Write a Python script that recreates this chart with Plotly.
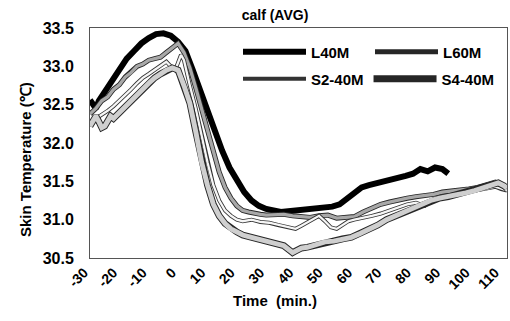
import plotly.graph_objects as go

# ---------------- data ----------------
x_ticks = [-30, -20, -10, 0, 10, 20, 30, 40, 50, 60, 70, 80, 90, 100, 110]
y_ticks = [30.5, 31.0, 31.5, 32.0, 32.5, 33.0, 33.5]

l40m_t = [-30, -29, -28, -27, -25, -22.5, -20, -17.5, -15, -12.5, -10, -7.5, -5, -2.5, 0,
          2.5, 5, 7.5, 10, 12.5, 15, 17.5, 20, 22.5, 25, 27.5, 30, 32.5, 35, 37.5, 40, 42.5,
          45, 47.5, 50, 52.5, 55, 57.5, 60, 62.5, 65, 67.5, 70, 72.5, 75, 77.5, 80, 82.5,
          85, 87.5, 90, 92]
l40m_v = [32.56, 32.5, 32.45, 32.55, 32.66, 32.8, 32.95, 33.1, 33.2, 33.3, 33.37, 33.42, 33.43, 33.4, 33.32,
          33.2, 32.95, 32.68, 32.4, 32.14, 31.9, 31.68, 31.5, 31.36, 31.25, 31.18, 31.14, 31.12, 31.1, 31.11, 31.12, 31.13,
          31.14, 31.15, 31.16, 31.17, 31.2, 31.27, 31.36, 31.42, 31.45, 31.47, 31.49, 31.52, 31.55, 31.57, 31.6, 31.66,
          31.63, 31.68, 31.66, 31.6]

l60m_t = [-30, -28, -26, -24, -22, -20, -18, -16, -14, -12, -10, -8, -6, -4, -2, 0, 2, 4, 6, 8,
          10, 12, 14, 16, 18, 20, 22, 24, 26, 28, 30, 33, 36, 39, 42, 45, 48, 51, 54, 57, 60,
          63, 66, 69, 72, 75, 78, 81, 84, 87, 90, 93, 96, 99, 102, 105, 108, 110, 112]
l60m_v = [32.38, 32.45, 32.55, 32.6, 32.7, 32.76, 32.86, 32.92, 33.0, 33.03, 33.08, 33.1, 33.12, 33.18, 33.24,
          33.3, 33.18, 32.98, 32.72, 32.45, 32.18, 31.9, 31.62, 31.42, 31.28, 31.18, 31.12, 31.1, 31.08, 31.07,
          31.06, 31.06, 31.07, 31.05, 31.04, 31.03, 31.05, 31.06, 31.02, 31.03, 31.04, 31.1, 31.15, 31.2, 31.23,
          31.26, 31.28, 31.3, 31.31, 31.33, 31.36, 31.37, 31.38, 31.4, 31.42, 31.46, 31.49, 31.45, 31.41]

s2_t = [-30, -28, -26, -24, -22, -20, -18, -16, -14, -12, -10, -8, -6, -4, -2, -1, 0, 1, 2, 3, 4, 6, 8,
        10, 12, 14, 16, 18, 20, 22, 25, 28, 31, 34, 37, 40, 42, 44, 46, 48, 50, 52, 54, 56, 58, 60, 63,
        66, 69, 72, 75, 78, 81, 84, 87, 90, 93, 96, 99, 102, 105, 108, 110, 112]
s2_v = [32.27, 32.32, 32.36, 32.42, 32.48, 32.55, 32.62, 32.7, 32.78, 32.85, 32.9, 32.95, 33.0, 33.06, 32.98,
        32.95, 33.05, 33.15, 33.08, 32.9, 32.75, 32.45, 32.1, 31.75, 31.45, 31.25, 31.12, 31.05, 31.0, 30.98,
        31.0, 30.97, 30.96, 30.93, 30.9, 30.88, 30.92, 30.96, 31.0, 31.05, 30.98, 30.9, 30.88, 30.93, 30.98,
        31.0, 31.02, 31.05, 31.08, 31.12, 31.15, 31.2, 31.22, 31.18, 31.26, 31.3, 31.32, 31.34, 31.36, 31.38,
        31.4, 31.43, 31.4, 31.38]

s4_t = [-30, -29, -28, -27, -26, -25, -24, -23, -22, -21, -20, -18, -16, -14, -12, -10, -8, -6, -4, -2,
        0, 2, 4, 6, 8, 10, 12, 14, 16, 18, 20, 22, 24, 26, 28, 30, 32, 34, 36, 38, 39, 40, 42, 44, 46,
        48, 50, 53, 56, 59, 62, 65, 68, 71, 74, 77, 80, 83, 86, 89, 92, 95, 98, 101, 104, 107, 109, 111, 112]
s4_v = [32.22, 32.3, 32.35, 32.28, 32.2, 32.22, 32.3, 32.35, 32.32, 32.36, 32.4, 32.46, 32.55, 32.63, 32.7,
        32.78, 32.85, 32.9, 32.95, 32.98, 32.95, 32.75, 32.52, 32.15, 31.75, 31.45, 31.2, 31.05, 30.95, 30.88,
        30.84, 30.8, 30.78, 30.76, 30.73, 30.72, 30.7, 30.68, 30.66, 30.6, 30.57, 30.59, 30.63, 30.64, 30.66,
        30.69, 30.71, 30.72, 30.75, 30.77, 30.82, 30.87, 30.93, 31.0, 31.05, 31.1, 31.15, 31.2, 31.25, 31.28,
        31.3, 31.33, 31.35, 31.38, 31.42, 31.46, 31.48, 31.44, 31.41]

FONT = "Liberation Sans, Arial, sans-serif"
L, T, PW, PH = 90, 28, 417, 230   # plot-area geometry in px (for text placement)

fig = go.Figure()

# L40M: solid thick black
fig.add_trace(go.Scatter(x=l40m_t, y=l40m_v, mode="lines", name="<b>L40M</b>",
                         legend="legend", line=dict(color="#000000", width=6)))

# double-line series: dark outline + lighter inner line
series = [
    ("L60M", l60m_t, l60m_v, "#262626", 5.0, "#a8a8a8", 3.3, "legend"),
    ("S2-40M", s2_t, s2_v, "#333333", 4.0, "#f6f6f6", 2.3, "legend2"),
    ("S4-40M", s4_t, s4_v, "#262626", 6.8, "#cfcfcf", 4.9, "legend2"),
]
for name, t, v, oc, ow, ic, iw, lg in series:
    fig.add_trace(go.Scatter(x=t, y=v, mode="lines", name=f"<b>{name}</b>", legendgroup=name,
                             legend=lg, line=dict(color=oc, width=ow)))
    fig.add_trace(go.Scatter(x=t, y=v, mode="lines", name=name, legendgroup=name,
                             legend=lg, showlegend=False, hoverinfo="skip",
                             line=dict(color=ic, width=iw)))

def px_x(p):
    return (p - L) / PW

def px_y(p):
    return (T + PH - p) / PH

legend_common = dict(orientation="h", xanchor="left", yanchor="middle", itemwidth=63,
                     font=dict(size=15, family=FONT), bgcolor="rgba(0,0,0,0)")

fig.update_layout(
    width=510, height=321,
    margin=dict(l=L, r=510 - L - PW, t=T, b=321 - T - PH, autoexpand=False),
    paper_bgcolor="white", plot_bgcolor="white",
    font=dict(family=FONT, color="#000"),
    title=dict(text="<b>calf (AVG)</b>", x=275 / 510, xanchor="center",
               y=1 - 15 / 321, yanchor="middle", font=dict(size=14)),
    showlegend=True,
    legend=dict(x=px_x(238), y=px_y(52), entrywidth=54, entrywidthmode="pixels",
                **legend_common),
    legend2=dict(x=px_x(238), y=px_y(79), **legend_common),
    xaxis=dict(range=[-30, 112], tickvals=x_ticks,
               ticktext=[f"<b>{v}</b>" for v in x_ticks], tickangle=-45,
               showgrid=False, zeroline=False, showline=True, mirror=True,
               linecolor="#555", linewidth=1, ticks="", ticklabelshift=-6,
               tickfont=dict(size=14)),
    yaxis=dict(range=[30.5, 33.5], tickvals=y_ticks,
               ticktext=[f"<b>{v:.1f}</b>" for v in y_ticks],
               showgrid=False, zeroline=False, showline=True, mirror=True,
               linecolor="#555", linewidth=1, ticks="",
               tickfont=dict(size=16), ticklabelstandoff=12),
    annotations=[
        dict(text="<b>Time  (min.)</b>", xref="paper", yref="paper",
             x=px_x(275), y=px_y(300), xanchor="center", yanchor="middle",
             showarrow=False, font=dict(size=15)),
        dict(text="<b>Skin Temperature (℃)</b>", xref="paper", yref="paper",
             x=px_x(25), y=px_y(160), xanchor="center", yanchor="middle",
             textangle=-90, showarrow=False, font=dict(size=15)),
    ],
)

fig.write_html("out.html")
